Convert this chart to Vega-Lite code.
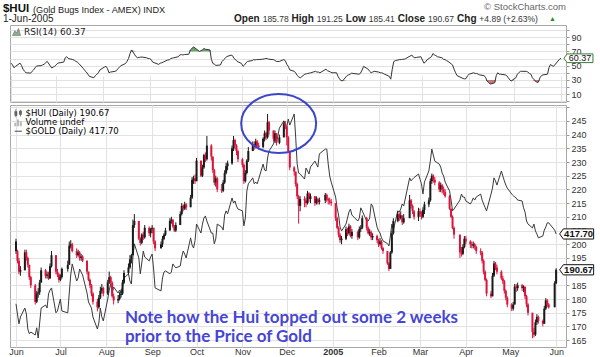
{
"$schema":"https://vega.github.io/schema/vega-lite/v6.json",
"padding":{"left":2,"top":1,"right":0,"bottom":0},
"background":"white",
"bounds":"flush",
"spacing":3,
"config":{"view":{"stroke":"#a8a8a8"},"font":"Liberation Sans","axis":{"labelFont":"Liberation Sans","labelColor":"#333333"}},
"resolve":{"scale":{"x":"independent","y":"independent","color":"independent","shape":"independent"},"legend":{"color":"independent","shape":"independent"}},
"datasets":{"px":[
{"d":"2004-06-01","o":201,"h":202,"l":196.5,"c":197.5,"g":394.4,"r":53.5},
{"d":"2004-06-02","o":197.5,"h":198,"l":193,"c":194,"g":391,"r":51},
{"d":"2004-06-03","o":194,"h":195,"l":189,"c":190,"g":387.7,"r":47},
{"d":"2004-06-04","o":190,"h":192,"l":188.5,"c":190.5,"g":390,"r":49},
{"d":"2004-06-07","o":190.5,"h":198,"l":190.5,"c":197,"g":393,"r":53.5},
{"d":"2004-06-08","o":197,"h":198,"l":194,"c":195,"g":391,"r":50},
{"d":"2004-06-09","o":195,"h":195.5,"l":191.5,"c":192.5,"g":386,"r":45},
{"d":"2004-06-10","o":192.5,"h":192.5,"l":187,"c":188,"g":384.4,"r":42},
{"d":"2004-06-11","o":188,"h":188.5,"l":184,"c":185,"g":385,"r":40},
{"d":"2004-06-14","o":185,"h":185.5,"l":178,"c":179,"g":384,"r":39.5},
{"d":"2004-06-15","o":179,"h":183,"l":178.5,"c":182,"g":386.4,"r":42},
{"d":"2004-06-16","o":182,"h":184,"l":180.5,"c":182.5,"g":383,"r":44},
{"d":"2004-06-17","o":182.5,"h":187,"l":181.5,"c":186,"g":388,"r":47},
{"d":"2004-06-18","o":186,"h":191.5,"l":186,"c":190.5,"g":393,"r":49.5},
{"d":"2004-06-21","o":190.5,"h":191,"l":187.5,"c":188.5,"g":394,"r":50},
{"d":"2004-06-22","o":188.5,"h":190,"l":187.5,"c":189,"g":393,"r":51},
{"d":"2004-06-23","o":189,"h":190,"l":187,"c":187.5,"g":397.7,"r":52},
{"d":"2004-06-24","o":187.5,"h":193,"l":187.5,"c":192,"g":399,"r":54},
{"d":"2004-06-25","o":192,"h":197.5,"l":191.5,"c":196,"g":399.7,"r":56},
{"d":"2004-06-28","o":196,"h":196,"l":189,"c":190,"g":391.4,"r":46.7},
{"d":"2004-06-29","o":190,"h":191,"l":188,"c":189,"g":392,"r":48},
{"d":"2004-06-30","o":189,"h":189.5,"l":186,"c":187,"g":394,"r":49},
{"d":"2004-07-01","o":187,"h":189,"l":186.5,"c":188,"g":396,"r":51},
{"d":"2004-07-02","o":188,"h":191.5,"l":187.5,"c":191,"g":392,"r":53.5},
{"d":"2004-07-06","o":191,"h":194,"l":190,"c":192.5,"g":391.4,"r":55},
{"d":"2004-07-07","o":192.5,"h":201,"l":192.5,"c":199.5,"g":398,"r":61},
{"d":"2004-07-08","o":199.5,"h":201.5,"l":198.5,"c":200,"g":404,"r":62.5},
{"d":"2004-07-09","o":200,"h":200.5,"l":197,"c":197.5,"g":407.7,"r":60},
{"d":"2004-07-12","o":197.5,"h":198.5,"l":195,"c":196,"g":402,"r":58.5},
{"d":"2004-07-13","o":196,"h":198,"l":195.5,"c":197,"g":403,"r":57.5},
{"d":"2004-07-14","o":197,"h":197.5,"l":194,"c":195,"g":406,"r":56},
{"d":"2004-07-15","o":195,"h":196.5,"l":194,"c":195.5,"g":405,"r":55},
{"d":"2004-07-16","o":195.5,"h":196,"l":193.5,"c":194,"g":404,"r":53},
{"d":"2004-07-19","o":194,"h":194,"l":189,"c":190,"g":398,"r":46},
{"d":"2004-07-20","o":190,"h":190,"l":186.5,"c":187,"g":395,"r":43},
{"d":"2004-07-21","o":187,"h":187.5,"l":184,"c":185,"g":394,"r":41},
{"d":"2004-07-22","o":185,"h":185.5,"l":181,"c":182,"g":393,"r":38},
{"d":"2004-07-23","o":182,"h":182.5,"l":178,"c":179,"g":390,"r":35},
{"d":"2004-07-26","o":179,"h":180,"l":175.5,"c":177,"g":386,"r":33},
{"d":"2004-07-27","o":177,"h":181.5,"l":176.5,"c":180.5,"g":388,"r":36},
{"d":"2004-07-28","o":180.5,"h":184.5,"l":180,"c":183,"g":393,"r":38},
{"d":"2004-07-29","o":183,"h":185.5,"l":182,"c":184,"g":390,"r":40},
{"d":"2004-07-30","o":184,"h":184.5,"l":181,"c":182,"g":388.7,"r":44},
{"d":"2004-08-02","o":182,"h":187,"l":181.5,"c":186,"g":396,"r":48},
{"d":"2004-08-03","o":186,"h":190,"l":185.5,"c":188,"g":399,"r":49},
{"d":"2004-08-04","o":188,"h":188.5,"l":185,"c":186,"g":401,"r":46},
{"d":"2004-08-05","o":186,"h":186.5,"l":180.5,"c":181,"g":398,"r":40},
{"d":"2004-08-06","o":181,"h":182,"l":178,"c":179.5,"g":400,"r":41},
{"d":"2004-08-09","o":179.5,"h":181.5,"l":178.5,"c":180,"g":398,"r":42},
{"d":"2004-08-10","o":180,"h":182.5,"l":179.5,"c":181.5,"g":399,"r":43},
{"d":"2004-08-11","o":181.5,"h":183.5,"l":180.5,"c":182,"g":398,"r":46},
{"d":"2004-08-12","o":182,"h":187,"l":181.5,"c":186,"g":400,"r":48},
{"d":"2004-08-13","o":186,"h":190.5,"l":185.5,"c":189.5,"g":403,"r":50},
{"d":"2004-08-16","o":189.5,"h":193,"l":189,"c":191.5,"g":404.4,"r":53},
{"d":"2004-08-17","o":191.5,"h":196,"l":191,"c":194.5,"g":402,"r":56},
{"d":"2004-08-18","o":194.5,"h":196.5,"l":193,"c":196,"g":401,"r":60},
{"d":"2004-08-19","o":196,"h":209,"l":196,"c":207,"g":410,"r":67},
{"d":"2004-08-20","o":207,"h":211,"l":206,"c":208.5,"g":414.4,"r":72},
{"d":"2004-08-23","o":208.5,"h":208.5,"l":201.5,"c":202,"g":409.7,"r":62.5},
{"d":"2004-08-24","o":202,"h":202.5,"l":199.5,"c":200.5,"g":404.4,"r":61},
{"d":"2004-08-25","o":200.5,"h":204,"l":200,"c":203.5,"g":408,"r":61.5},
{"d":"2004-08-26","o":203.5,"h":204.5,"l":201.5,"c":202.5,"g":412,"r":62},
{"d":"2004-08-27","o":202.5,"h":207,"l":202,"c":206,"g":410,"r":62},
{"d":"2004-08-30","o":206,"h":206.5,"l":203,"c":204,"g":408.7,"r":61},
{"d":"2004-08-31","o":204,"h":206,"l":202.5,"c":205.5,"g":410,"r":60},
{"d":"2004-09-01","o":205.5,"h":207,"l":204,"c":206,"g":411,"r":60},
{"d":"2004-09-02","o":206,"h":206,"l":200,"c":201,"g":406,"r":58.5},
{"d":"2004-09-03","o":201,"h":201.5,"l":197.5,"c":198.5,"g":399.7,"r":55},
{"d":"2004-09-07","o":198.5,"h":201,"l":198.5,"c":200,"g":398.7,"r":51.7},
{"d":"2004-09-08","o":200,"h":203,"l":199,"c":202,"g":403,"r":53.5},
{"d":"2004-09-09","o":202,"h":204,"l":201.5,"c":203.5,"g":405,"r":54},
{"d":"2004-09-10","o":203.5,"h":206,"l":203,"c":205,"g":405.4,"r":55},
{"d":"2004-09-13","o":205,"h":209.5,"l":205,"c":208.5,"g":404.4,"r":58},
{"d":"2004-09-14","o":208.5,"h":210,"l":207.5,"c":209,"g":405,"r":58},
{"d":"2004-09-15","o":209,"h":209,"l":206,"c":206.5,"g":407.7,"r":60},
{"d":"2004-09-16","o":206.5,"h":207,"l":204.5,"c":205,"g":407,"r":60.5},
{"d":"2004-09-17","o":205,"h":208,"l":204.5,"c":207,"g":406.4,"r":61},
{"d":"2004-09-20","o":207,"h":212,"l":207,"c":211,"g":407,"r":62.5},
{"d":"2004-09-21","o":211,"h":215,"l":210.5,"c":214,"g":410,"r":65},
{"d":"2004-09-22","o":214,"h":214.5,"l":212,"c":213,"g":412,"r":65.5},
{"d":"2004-09-23","o":213,"h":215.5,"l":212.5,"c":214.5,"g":411,"r":65},
{"d":"2004-09-24","o":214.5,"h":215,"l":212.5,"c":213.5,"g":409.7,"r":65.5},
{"d":"2004-09-27","o":213.5,"h":218,"l":213.5,"c":217,"g":416.4,"r":66},
{"d":"2004-09-28","o":217,"h":224.5,"l":216.5,"c":223.5,"g":414,"r":72},
{"d":"2004-09-29","o":223.5,"h":225,"l":222,"c":224,"g":413,"r":74},
{"d":"2004-09-30","o":224,"h":225.5,"l":222,"c":223,"g":415.5,"r":76},
{"d":"2004-10-01","o":223,"h":231.5,"l":223,"c":230.5,"g":421,"r":75},
{"d":"2004-10-04","o":230.5,"h":230.5,"l":224.5,"c":225,"g":418,"r":70},
{"d":"2004-10-05","o":225,"h":229,"l":224.5,"c":228,"g":421,"r":71},
{"d":"2004-10-06","o":228,"h":233,"l":227.5,"c":232.5,"g":423,"r":72},
{"d":"2004-10-07","o":232.5,"h":233.5,"l":230,"c":231,"g":423.7,"r":74},
{"d":"2004-10-08","o":231,"h":239.5,"l":230.5,"c":236,"g":422,"r":73},
{"d":"2004-10-11","o":236,"h":236.5,"l":230.5,"c":232,"g":418,"r":72},
{"d":"2004-10-12","o":232,"h":232,"l":226,"c":227,"g":418,"r":58.5},
{"d":"2004-10-13","o":227,"h":227.5,"l":221.5,"c":222.5,"g":414.4,"r":53},
{"d":"2004-10-14","o":222.5,"h":225,"l":221,"c":224,"g":416,"r":52},
{"d":"2004-10-15","o":224,"h":224.5,"l":219,"c":220,"g":421,"r":50.3},
{"d":"2004-10-18","o":220,"h":222,"l":218.7,"c":219.5,"g":420,"r":51},
{"d":"2004-10-19","o":219.5,"h":223.5,"l":219,"c":222.5,"g":419,"r":55.8},
{"d":"2004-10-20","o":222.5,"h":227,"l":222,"c":226,"g":424,"r":58},
{"d":"2004-10-21","o":226,"h":229.7,"l":225.5,"c":228.5,"g":425.4,"r":60},
{"d":"2004-10-22","o":228.5,"h":230.5,"l":227,"c":229.5,"g":424.4,"r":62.5},
{"d":"2004-10-25","o":229.5,"h":236,"l":229,"c":235,"g":429.7,"r":64.8},
{"d":"2004-10-26","o":235,"h":239.5,"l":234,"c":238,"g":428,"r":64},
{"d":"2004-10-27","o":238,"h":238.5,"l":234.5,"c":236,"g":428.7,"r":60},
{"d":"2004-10-28","o":236,"h":236.5,"l":232.5,"c":234,"g":427,"r":58.5},
{"d":"2004-10-29","o":234,"h":234.5,"l":230,"c":231,"g":426,"r":56},
{"d":"2004-11-01","o":231,"h":231.5,"l":228,"c":229,"g":425.4,"r":53},
{"d":"2004-11-02","o":229,"h":229.5,"l":222,"c":223,"g":420.4,"r":49},
{"d":"2004-11-03","o":223,"h":227,"l":222.5,"c":226,"g":423,"r":51},
{"d":"2004-11-04","o":226,"h":231,"l":225.5,"c":230.5,"g":432,"r":54},
{"d":"2004-11-05","o":230.5,"h":235.5,"l":230,"c":234,"g":434.4,"r":56},
{"d":"2004-11-08","o":234,"h":237.5,"l":234,"c":236.5,"g":436.4,"r":57},
{"d":"2004-11-09","o":236.5,"h":237.5,"l":234.5,"c":235.5,"g":434.4,"r":58.5},
{"d":"2004-11-10","o":235.5,"h":238.5,"l":235,"c":237.5,"g":435,"r":58},
{"d":"2004-11-11","o":237.5,"h":238,"l":235,"c":236,"g":434.4,"r":58.5},
{"d":"2004-11-12","o":236,"h":237,"l":234.5,"c":235.5,"g":436,"r":58.5},
{"d":"2004-11-15","o":235.5,"h":239,"l":235,"c":238.5,"g":441,"r":59},
{"d":"2004-11-16","o":238.5,"h":241.5,"l":237.5,"c":240.5,"g":439,"r":59.5},
{"d":"2004-11-17","o":240.5,"h":241,"l":238,"c":239,"g":438.7,"r":60},
{"d":"2004-11-18","o":239,"h":247.5,"l":238.5,"c":244.5,"g":443,"r":60},
{"d":"2004-11-19","o":244.5,"h":245,"l":240,"c":241.5,"g":445.4,"r":59},
{"d":"2004-11-22","o":241.5,"h":241.5,"l":237.5,"c":238.5,"g":447.7,"r":58.5},
{"d":"2004-11-23","o":238.5,"h":241.5,"l":237,"c":240.5,"g":449.7,"r":57.5},
{"d":"2004-11-24","o":240.5,"h":240.5,"l":236,"c":237,"g":448,"r":56},
{"d":"2004-11-26","o":237,"h":240,"l":236.5,"c":239,"g":453,"r":55.8},
{"d":"2004-11-29","o":239,"h":245,"l":239,"c":244,"g":455.4,"r":58.5},
{"d":"2004-11-30","o":244,"h":245,"l":242,"c":243,"g":454,"r":57},
{"d":"2004-12-01","o":243,"h":243,"l":236,"c":239,"g":453.5,"r":52},
{"d":"2004-12-02","o":239,"h":239.5,"l":233.5,"c":234,"g":456,"r":49},
{"d":"2004-12-03","o":234,"h":234,"l":227,"c":228,"g":454,"r":44},
{"d":"2004-12-06","o":228,"h":228.5,"l":225,"c":226.5,"g":457.7,"r":42},
{"d":"2004-12-07","o":226.5,"h":226.5,"l":221,"c":222,"g":450,"r":39.5},
{"d":"2004-12-08","o":222,"h":222.5,"l":216.5,"c":217.5,"g":441,"r":36},
{"d":"2004-12-09","o":217.5,"h":218,"l":207.5,"c":214,"g":438,"r":34},
{"d":"2004-12-10","o":214,"h":217.5,"l":212,"c":216.5,"g":437.7,"r":33},
{"d":"2004-12-13","o":216.5,"h":217.5,"l":213.5,"c":216,"g":436,"r":38},
{"d":"2004-12-14","o":216,"h":217,"l":213.5,"c":215,"g":439.7,"r":38.5},
{"d":"2004-12-15","o":215,"h":219.5,"l":214.5,"c":218.5,"g":438.7,"r":39},
{"d":"2004-12-16","o":218.5,"h":219,"l":215.5,"c":216.5,"g":437.7,"r":39.5},
{"d":"2004-12-17","o":216.5,"h":218.5,"l":215,"c":217.5,"g":440,"r":40},
{"d":"2004-12-20","o":217.5,"h":217.5,"l":214,"c":215,"g":442,"r":42},
{"d":"2004-12-21","o":215,"h":217.5,"l":214.5,"c":216.5,"g":441,"r":41},
{"d":"2004-12-22","o":216.5,"h":217,"l":214.5,"c":215.5,"g":440,"r":41},
{"d":"2004-12-23","o":215.5,"h":217,"l":214.5,"c":216,"g":444.4,"r":40},
{"d":"2004-12-27","o":216,"h":218.7,"l":215,"c":218,"g":446,"r":45},
{"d":"2004-12-28","o":218,"h":218.5,"l":215.5,"c":216.5,"g":446,"r":43},
{"d":"2004-12-29","o":216.5,"h":217,"l":214.5,"c":216,"g":441,"r":42},
{"d":"2004-12-30","o":216,"h":217,"l":214.5,"c":215.5,"g":437,"r":41},
{"d":"2004-12-31","o":215.5,"h":216.5,"l":214,"c":215,"g":435,"r":40},
{"d":"2005-01-03","o":215,"h":215,"l":208.5,"c":209.5,"g":430,"r":40},
{"d":"2005-01-04","o":209.5,"h":210,"l":205.5,"c":206,"g":426.4,"r":35},
{"d":"2005-01-05","o":206,"h":206.5,"l":202.5,"c":203.5,"g":424,"r":31.4},
{"d":"2005-01-06","o":203.5,"h":204,"l":200.5,"c":201.5,"g":420,"r":29},
{"d":"2005-01-07","o":201.5,"h":203,"l":200,"c":202,"g":418.7,"r":28.6},
{"d":"2005-01-10","o":202,"h":206.5,"l":201.5,"c":205.5,"g":421,"r":36},
{"d":"2005-01-11","o":205.5,"h":206,"l":203,"c":204,"g":423,"r":37},
{"d":"2005-01-12","o":204,"h":207.5,"l":203.5,"c":206.5,"g":425,"r":38},
{"d":"2005-01-13","o":206.5,"h":207,"l":202.5,"c":203,"g":426,"r":39.5},
{"d":"2005-01-14","o":203,"h":205.5,"l":202,"c":204.5,"g":424,"r":39},
{"d":"2005-01-18","o":204.5,"h":205,"l":201.5,"c":202.5,"g":422,"r":38},
{"d":"2005-01-19","o":202.5,"h":206.5,"l":202,"c":205.5,"g":423,"r":39.5},
{"d":"2005-01-20","o":205.5,"h":207,"l":204.5,"c":206,"g":426.4,"r":44},
{"d":"2005-01-21","o":206,"h":210.5,"l":205.5,"c":209.5,"g":425.4,"r":49},
{"d":"2005-01-24","o":209.5,"h":210,"l":205,"c":206,"g":422,"r":45},
{"d":"2005-01-25","o":206,"h":206.5,"l":203.5,"c":204,"g":422,"r":42},
{"d":"2005-01-26","o":204,"h":205.5,"l":203,"c":204.5,"g":423,"r":40},
{"d":"2005-01-27","o":204.5,"h":205,"l":201.5,"c":202.5,"g":427.7,"r":41},
{"d":"2005-01-28","o":202.5,"h":204,"l":201.5,"c":203,"g":427,"r":42},
{"d":"2005-01-31","o":203,"h":203.5,"l":200.5,"c":201.5,"g":420,"r":41},
{"d":"2005-02-01","o":201.5,"h":202,"l":199,"c":200,"g":418.7,"r":40},
{"d":"2005-02-02","o":200,"h":202.3,"l":199.5,"c":201,"g":418,"r":40},
{"d":"2005-02-03","o":201,"h":201.5,"l":198,"c":198.6,"g":416.4,"r":39},
{"d":"2005-02-04","o":198.6,"h":199,"l":196.5,"c":197.5,"g":415.4,"r":38},
{"d":"2005-02-07","o":197.5,"h":197.5,"l":192.5,"c":193,"g":414.5,"r":35},
{"d":"2005-02-08","o":193,"h":193.5,"l":190.2,"c":191,"g":413.7,"r":31},
{"d":"2005-02-09","o":191,"h":197.5,"l":191,"c":197,"g":417,"r":45},
{"d":"2005-02-10","o":197,"h":205,"l":196.5,"c":204,"g":421,"r":55.8},
{"d":"2005-02-11","o":204,"h":209.5,"l":203.5,"c":208.5,"g":419,"r":57},
{"d":"2005-02-14","o":208.5,"h":212,"l":208,"c":211,"g":425.4,"r":58.5},
{"d":"2005-02-15","o":211,"h":211.5,"l":208.5,"c":209.5,"g":425,"r":58.5},
{"d":"2005-02-16","o":209.5,"h":212,"l":209,"c":210.5,"g":426,"r":59},
{"d":"2005-02-17","o":210.5,"h":210.5,"l":207,"c":208,"g":427.7,"r":59},
{"d":"2005-02-18","o":208,"h":211,"l":207.5,"c":209.5,"g":427,"r":60},
{"d":"2005-02-22","o":209.5,"h":218,"l":209.5,"c":216,"g":436.4,"r":64.8},
{"d":"2005-02-23","o":216,"h":216.5,"l":213,"c":214,"g":435.4,"r":62},
{"d":"2005-02-24","o":214,"h":214.5,"l":211,"c":212,"g":436,"r":61},
{"d":"2005-02-25","o":212,"h":212.5,"l":209,"c":210,"g":436.5,"r":61.5},
{"d":"2005-02-28","o":210,"h":213.3,"l":208.5,"c":212,"g":437.7,"r":62.5},
{"d":"2005-03-01","o":212,"h":213,"l":210,"c":211,"g":436,"r":58},
{"d":"2005-03-02","o":211,"h":212,"l":209,"c":210,"g":434.4,"r":53.5},
{"d":"2005-03-03","o":210,"h":213.5,"l":209.5,"c":212.5,"g":431,"r":55},
{"d":"2005-03-04","o":212.5,"h":215.5,"l":211,"c":214.5,"g":435,"r":58},
{"d":"2005-03-07","o":214.5,"h":217,"l":213.5,"c":216,"g":438.7,"r":62.5},
{"d":"2005-03-08","o":216,"h":224,"l":215.5,"c":223,"g":442,"r":67},
{"d":"2005-03-09","o":223,"h":225.8,"l":222,"c":225,"g":446,"r":65},
{"d":"2005-03-10","o":225,"h":225.5,"l":222.5,"c":223.5,"g":444,"r":64},
{"d":"2005-03-11","o":223.5,"h":224.5,"l":221.5,"c":222.5,"g":442,"r":62.5},
{"d":"2005-03-14","o":222.5,"h":223,"l":219,"c":220,"g":441,"r":61},
{"d":"2005-03-15","o":220,"h":222.5,"l":219,"c":221.5,"g":440,"r":59},
{"d":"2005-03-16","o":221.5,"h":222,"l":218.5,"c":220,"g":438,"r":58.5},
{"d":"2005-03-17","o":220,"h":221,"l":218,"c":219,"g":437,"r":57},
{"d":"2005-03-18","o":219,"h":220,"l":217,"c":217.5,"g":435,"r":56},
{"d":"2005-03-21","o":217.5,"h":218,"l":212.5,"c":213,"g":432,"r":51},
{"d":"2005-03-22","o":213,"h":213,"l":209.5,"c":210,"g":429,"r":45},
{"d":"2005-03-23","o":210,"h":210.5,"l":205.5,"c":206,"g":425.4,"r":40},
{"d":"2005-03-24","o":206,"h":206.5,"l":202,"c":203.5,"g":426,"r":36},
{"d":"2005-03-28","o":203.5,"h":203.5,"l":195,"c":197,"g":429,"r":32},
{"d":"2005-03-29","o":197,"h":199,"l":195.5,"c":196.5,"g":431,"r":31.4},
{"d":"2005-03-30","o":196.5,"h":200,"l":196,"c":199,"g":430,"r":32},
{"d":"2005-03-31","o":199,"h":203,"l":198.5,"c":202,"g":430,"r":36},
{"d":"2005-04-01","o":202,"h":203,"l":200,"c":201,"g":428.7,"r":38},
{"d":"2005-04-04","o":201,"h":201.5,"l":198.6,"c":200,"g":427.7,"r":40},
{"d":"2005-04-05","o":200,"h":201,"l":198.5,"c":199.5,"g":428.5,"r":39},
{"d":"2005-04-06","o":199.5,"h":201,"l":198.5,"c":200,"g":429.7,"r":39},
{"d":"2005-04-07","o":200,"h":200.5,"l":198,"c":199,"g":429,"r":38},
{"d":"2005-04-08","o":199,"h":199.5,"l":196.5,"c":197.5,"g":430,"r":37},
{"d":"2005-04-11","o":197.5,"h":198.5,"l":196,"c":197,"g":431,"r":36},
{"d":"2005-04-12","o":197,"h":197.5,"l":193,"c":194,"g":429,"r":33},
{"d":"2005-04-13","o":194,"h":194.5,"l":189,"c":190,"g":427.7,"r":28},
{"d":"2005-04-14","o":190,"h":190.5,"l":186.5,"c":187,"g":426.5,"r":26.4},
{"d":"2005-04-15","o":187,"h":187.5,"l":181,"c":182,"g":425.4,"r":24.1},
{"d":"2005-04-18","o":182,"h":183,"l":180.3,"c":181,"g":431,"r":26},
{"d":"2005-04-19","o":181,"h":189.5,"l":181,"c":188.5,"g":433,"r":36},
{"d":"2005-04-20","o":188.5,"h":193.9,"l":188,"c":193,"g":436.4,"r":40},
{"d":"2005-04-21","o":193,"h":193.5,"l":190.5,"c":191.5,"g":435.4,"r":38},
{"d":"2005-04-22","o":191.5,"h":192.5,"l":189,"c":190,"g":434,"r":38},
{"d":"2005-04-25","o":190,"h":190.5,"l":187,"c":187.5,"g":438.7,"r":37},
{"d":"2005-04-26","o":187.5,"h":188.5,"l":185.5,"c":186.5,"g":437,"r":36},
{"d":"2005-04-27","o":186.5,"h":187,"l":182,"c":183,"g":435.4,"r":33},
{"d":"2005-04-28","o":183,"h":183.5,"l":179.5,"c":180.5,"g":434,"r":30},
{"d":"2005-04-29","o":180.5,"h":181,"l":177,"c":178,"g":433,"r":28.6},
{"d":"2005-05-02","o":178,"h":178.5,"l":175.6,"c":176.5,"g":431,"r":33},
{"d":"2005-05-03","o":176.5,"h":179,"l":175.8,"c":178,"g":430.5,"r":38},
{"d":"2005-05-04","o":178,"h":185.5,"l":178,"c":184.5,"g":430,"r":40},
{"d":"2005-05-05","o":184.5,"h":185.5,"l":182.5,"c":184,"g":429.7,"r":42},
{"d":"2005-05-06","o":184,"h":186,"l":183,"c":185,"g":429,"r":42},
{"d":"2005-05-09","o":185,"h":185.5,"l":183,"c":184,"g":428.7,"r":42},
{"d":"2005-05-10","o":184,"h":185,"l":182.5,"c":184.5,"g":426.4,"r":41},
{"d":"2005-05-11","o":184.5,"h":184.5,"l":180,"c":181,"g":425,"r":39},
{"d":"2005-05-12","o":181,"h":181.5,"l":177,"c":178,"g":422,"r":38},
{"d":"2005-05-13","o":178,"h":178.5,"l":174,"c":175,"g":421,"r":33},
{"d":"2005-05-16","o":175,"h":175,"l":165.7,"c":168,"g":419.7,"r":26.4},
{"d":"2005-05-17","o":168,"h":169.5,"l":166,"c":167,"g":421,"r":27},
{"d":"2005-05-18","o":167,"h":172.5,"l":166.5,"c":171.5,"g":418.7,"r":33},
{"d":"2005-05-19","o":171.5,"h":174.5,"l":170.5,"c":173.5,"g":417.7,"r":36},
{"d":"2005-05-20","o":173.5,"h":174,"l":171,"c":172,"g":416.4,"r":37},
{"d":"2005-05-23","o":172,"h":172.5,"l":170,"c":171,"g":417,"r":38},
{"d":"2005-05-24","o":171,"h":177.5,"l":171,"c":176.5,"g":419,"r":47},
{"d":"2005-05-25","o":176.5,"h":180.3,"l":176,"c":179.5,"g":420,"r":51.7},
{"d":"2005-05-26","o":179.5,"h":180,"l":177,"c":178,"g":421.4,"r":50},
{"d":"2005-05-27","o":178,"h":178.5,"l":176.5,"c":177,"g":421.4,"r":49},
{"d":"2005-05-31","o":177,"h":186.5,"l":177,"c":185.8,"g":419,"r":59},
{"d":"2005-06-01","o":185.78,"h":191.25,"l":185.41,"c":190.67,"g":417.7,"r":60.37}
]},
"vconcat":[
{
"width":556,"height":77,
"resolve":{"scale":{"y":"independent"}},
"layer":[
{"data":{"name":"px"},
 "mark":{"type":"area","color":"#5f9a5f","opacity":0.9},
 "encoding":{
  "x":{"field":"d","type":"temporal","scale":{"type":"utc","domain":[{"year":2004,"month":5,"date":31,"hours":8,"utc":true},{"year":2005,"month":6,"date":4,"hours":7,"utc":true}]},
       "axis":{"labels":false,"ticks":false,"domain":false,"grid":true,"gridColor":"#e2e2e2","tickCount":{"interval":"month","step":1},"title":null}},
  "y":{"field":"r","type":"quantitative","scale":{"domain":[70,107],"range":[26.38,0],"clamp":true,"nice":false,"zero":false},"axis":null},
  "y2":{"datum":70}}},
{"data":{"name":"px"},
 "mark":{"type":"area","color":"#c46a6a","opacity":0.9},
 "encoding":{
  "x":{"field":"d","type":"temporal"},
  "y":{"field":"r","type":"quantitative","scale":{"domain":[-1,30],"range":[77,54.9],"clamp":true,"nice":false,"zero":false},"axis":null},
  "y2":{"datum":30}}},
{"layer":[
 {"data":{"name":"px"},
  "mark":{"type":"line","stroke":"#333333","strokeWidth":1},
  "encoding":{
   "x":{"field":"d","type":"temporal"},
   "y":{"field":"r","type":"quantitative","scale":{"domain":[-1,107],"nice":false,"zero":false},
        "axis":{"orient":"right","values":[0,10,20,30,40,50,60,70,80,90,100],"tickCount":50,"labelExpr":"datum.value % 20 == 10 ? datum.label : ''","labelOverlap":false,"grid":true,"gridColor":"#e2e2e2","domain":false,"tickSize":3,"tickColor":"#999999","labelFontSize":9,"labelPadding":2,"title":null}}}},
 {"mark":{"type":"rule","stroke":"#8a8a8a","strokeWidth":1.5},"encoding":{"y":{"datum":70}}},
 {"mark":{"type":"rule","stroke":"#8a8a8a","strokeWidth":1.5},"encoding":{"y":{"datum":30}}},
 {"mark":{"type":"rule","stroke":"#8a8a8a","strokeWidth":1,"strokeDash":[5,2,1,2]},"encoding":{"y":{"datum":50}}},
 {"data":{"name":"px"},"transform":[{"filter":"datum.c == 190.67"}],
  "mark":{"type":"point","shape":"M-1,0L-0.78,-0.3L1,-0.3L1,0.3L-0.78,0.3Z","size":841,"filled":true,"fill":"white","stroke":"#3a7a3a","strokeWidth":1,"opacity":1,"xOffset":17.4},
  "encoding":{"x":{"field":"d","type":"temporal"},"y":{"field":"r","type":"quantitative"}}},
 {"data":{"name":"px"},"transform":[{"filter":"datum.c == 190.67"}],
  "mark":{"type":"text","align":"center","baseline":"middle","dx":19,"fontSize":9,"color":"#111111"},
  "encoding":{"x":{"field":"d","type":"temporal"},"y":{"field":"r","type":"quantitative"},"text":{"field":"r","type":"quantitative","format":".2f"}}},
 {"data":{"values":[{"s":"RSI(14) 60.37"}]},"transform":[{"filter":"false"}],
  "mark":{"type":"point","filled":true},
  "encoding":{
   "color":{"field":"s","type":"nominal","scale":{"domain":["RSI(14) 60.37"],"range":["#5a8f5a"]},"legend":{"title":null,"orient":"top-left","offset":2,"padding":0,"symbolSize":64,"symbolStrokeWidth":0.6,"symbolStrokeColor":"#333333","labelFont":"DejaVu Sans","labelFontSize":9,"labelColor":"#222222","labelOffset":3,"labelLimit":300}},
   "shape":{"field":"s","type":"nominal","scale":{"domain":["RSI(14) 60.37"],"range":["M-1,1L-0.4,-0.2L0,0.4L0.5,-0.8L1,1Z"]},"legend":{"title":null,"orient":"top-left","offset":2,"padding":0,"symbolSize":64,"symbolStrokeWidth":0.6,"symbolStrokeColor":"#333333","labelFont":"DejaVu Sans","labelFontSize":9,"labelColor":"#222222","labelOffset":3,"labelLimit":300}}}},
 {"data":{"values":[{}]},"mark":{"type":"text","align":"left","baseline":"middle","fontSize":11.5,"fontWeight":"bold","color":"#111111"},
  "encoding":{"x":{"datum":{"year":2004,"month":5,"date":26,"hours":16,"utc":true},"type":"temporal"},"y":{"datum":129.4,"type":"quantitative"},"text":{"value":"$HUI"}}},
 {"data":{"values":[{}]},"mark":{"type":"text","align":"left","baseline":"middle","fontSize":9.2,"color":"#222222"},
  "encoding":{"x":{"datum":{"year":2004,"month":6,"date":15,"hours":14,"utc":true},"type":"temporal"},"y":{"datum":128.3,"type":"quantitative"},"text":{"value":"(Gold Bugs Index - AMEX) INDX"}}},
 {"data":{"values":[{}]},"mark":{"type":"text","align":"right","baseline":"middle","fontSize":9.5,"color":"#666666"},
  "encoding":{"x":{"datum":{"year":2005,"month":6,"date":4,"hours":7,"utc":true},"type":"temporal"},"y":{"datum":132.5,"type":"quantitative"},"text":{"value":"© StockCharts.com"}}},
 {"data":{"values":[{}]},"mark":{"type":"text","align":"left","baseline":"middle","fontSize":10,"color":"#222222"},
  "encoding":{"x":{"datum":{"year":2004,"month":5,"date":26,"hours":16,"utc":true},"type":"temporal"},"y":{"datum":115.5,"type":"quantitative"},"text":{"value":"1-Jun-2005"}}},
 {"data":{"values":[{}]},"mark":{"type":"text","align":"left","baseline":"middle","fontSize":10,"fontWeight":"bold","color":"#222222"},
  "encoding":{"x":{"datum":{"year":2004,"month":10,"date":27,"utc":true},"type":"temporal"},"y":{"datum":115.5,"type":"quantitative"},"text":{"value":"Open"}}},
 {"data":{"values":[{}]},"mark":{"type":"text","align":"left","baseline":"middle","fontSize":8.5,"color":"#333333"},
  "encoding":{"x":{"datum":{"year":2004,"month":11,"date":15,"utc":true},"type":"temporal"},"y":{"datum":115.5,"type":"quantitative"},"text":{"value":"185.78"}}},
 {"data":{"values":[{}]},"mark":{"type":"text","align":"left","baseline":"middle","fontSize":10,"fontWeight":"bold","color":"#222222"},
  "encoding":{"x":{"datum":{"year":2004,"month":12,"date":4,"hours":5,"utc":true},"type":"temporal"},"y":{"datum":115.5,"type":"quantitative"},"text":{"value":"High"}}},
 {"data":{"values":[{}]},"mark":{"type":"text","align":"left","baseline":"middle","fontSize":8.5,"color":"#333333"},
  "encoding":{"x":{"datum":{"year":2004,"month":12,"date":20,"hours":22,"utc":true},"type":"temporal"},"y":{"datum":115.5,"type":"quantitative"},"text":{"value":"191.25"}}},
 {"data":{"values":[{}]},"mark":{"type":"text","align":"left","baseline":"middle","fontSize":10,"fontWeight":"bold","color":"#222222"},
  "encoding":{"x":{"datum":{"year":2005,"month":1,"date":9,"hours":5,"utc":true},"type":"temporal"},"y":{"datum":115.5,"type":"quantitative"},"text":{"value":"Low"}}},
 {"data":{"values":[{}]},"mark":{"type":"text","align":"left","baseline":"middle","fontSize":8.5,"color":"#333333"},
  "encoding":{"x":{"datum":{"year":2005,"month":1,"date":24,"hours":10,"utc":true},"type":"temporal"},"y":{"datum":115.5,"type":"quantitative"},"text":{"value":"185.41"}}},
 {"data":{"values":[{}]},"mark":{"type":"text","align":"left","baseline":"middle","fontSize":10,"fontWeight":"bold","color":"#222222"},
  "encoding":{"x":{"datum":{"year":2005,"month":2,"date":12,"hours":17,"utc":true},"type":"temporal"},"y":{"datum":115.5,"type":"quantitative"},"text":{"value":"Close"}}},
 {"data":{"values":[{}]},"mark":{"type":"text","align":"left","baseline":"middle","fontSize":8.5,"color":"#333333"},
  "encoding":{"x":{"datum":{"year":2005,"month":3,"date":4,"hours":17,"utc":true},"type":"temporal"},"y":{"datum":115.5,"type":"quantitative"},"text":{"value":"190.67"}}},
 {"data":{"values":[{}]},"mark":{"type":"text","align":"left","baseline":"middle","fontSize":10,"fontWeight":"bold","color":"#222222"},
  "encoding":{"x":{"datum":{"year":2005,"month":3,"date":24,"utc":true},"type":"temporal"},"y":{"datum":115.5,"type":"quantitative"},"text":{"value":"Chg"}}},
 {"data":{"values":[{}]},"mark":{"type":"text","align":"left","baseline":"middle","fontSize":8.5,"color":"#333333"},
  "encoding":{"x":{"datum":{"year":2005,"month":4,"date":7,"hours":19,"utc":true},"type":"temporal"},"y":{"datum":115.5,"type":"quantitative"},"text":{"value":"+4.89 (+2.63%)"}}},
 {"data":{"values":[{}]},"mark":{"type":"text","align":"left","baseline":"middle","fontSize":7,"color":"#2e8b2e"},
  "encoding":{"x":{"datum":{"year":2005,"month":5,"date":24,"utc":true},"type":"temporal"},"y":{"datum":115.5,"type":"quantitative"},"text":{"value":"▲"}}}
]}
]
},
{
"width":556,"height":242,
"resolve":{"scale":{"y":"independent"}},
"layer":[
{"layer":[
 {"data":{"name":"px"},
  "mark":{"type":"line","stroke":"#3a3a3a","strokeWidth":1},
  "encoding":{
   "x":{"field":"d","type":"temporal","scale":{"type":"utc","domain":[{"year":2004,"month":5,"date":31,"hours":8,"utc":true},{"year":2005,"month":6,"date":4,"hours":7,"utc":true}]},
        "axis":{"tickCount":{"interval":"month","step":1},"grid":true,"gridColor":"#e2e2e2","ticks":false,"domain":false,"labelPadding":0,"labelFontSize":9,"labelFlush":false,"labelOverlap":false,"title":null,
                "labelExpr":"utcmonth(datum.value) == 0 ? utcFormat(datum.value, '%Y') : utcFormat(datum.value, '%b')",
                "labelFontWeight":{"condition":{"test":"utcmonth(datum.value) == 0","value":"bold"},"value":"normal"}}},
   "y":{"field":"g","type":"quantitative","scale":{"domain":[380,460.7],"nice":false,"zero":false},"axis":null}}},
 {"data":{"name":"px"},"transform":[{"filter":"datum.c == 190.67"}],
  "mark":{"type":"point","shape":"M-1,0L-0.78,-0.3L1,-0.3L1,0.3L-0.78,0.3Z","size":1156,"filled":true,"fill":"white","stroke":"#111111","strokeWidth":1,"opacity":1,"xOffset":20.5},
  "encoding":{"x":{"field":"d","type":"temporal"},"y":{"field":"g","type":"quantitative"}}},
 {"data":{"name":"px"},"transform":[{"filter":"datum.c == 190.67"}],
  "mark":{"type":"text","align":"center","baseline":"middle","dx":22.5,"fontSize":9.5,"fontWeight":"bold","color":"#111111"},
  "encoding":{"x":{"field":"d","type":"temporal"},"y":{"field":"g","type":"quantitative"},"text":{"field":"g","type":"quantitative","format":".2f"}}}
]},
{"layer":[
 {"data":{"name":"px"},
  "transform":[{"window":[{"op":"lag","field":"c","as":"pc"}],"sort":[{"field":"d"}]}],
  "mark":{"type":"rule","strokeWidth":1},
  "encoding":{
   "x":{"field":"d","type":"temporal"},
   "y":{"field":"l","type":"quantitative","scale":{"domain":[162.5,250.8],"nice":false,"zero":false},
        "axis":{"orient":"right","values":[165,170,175,180,185,190,195,200,205,210,215,220,225,230,235,240,245,250],"tickCount":100,"labelExpr":"datum.value > 245 ? '' : datum.label","labelOverlap":false,"grid":true,"gridColor":"#e2e2e2","domain":false,"tickSize":3,"tickColor":"#999999","labelFontSize":9,"labelPadding":2,"title":null}},
   "y2":{"field":"h"},
   "color":{"condition":{"test":"datum.pc != null && datum.c < datum.pc","value":"#dc143c"},"value":"#1a1a1a"}}},
 {"data":{"name":"px"},
  "transform":[{"window":[{"op":"lag","field":"c","as":"pc"}],"sort":[{"field":"d"}]}],
  "mark":{"type":"bar","size":2},
  "encoding":{
   "x":{"field":"d","type":"temporal"},
   "y":{"field":"o","type":"quantitative"},
   "y2":{"field":"c"},
   "color":{"condition":{"test":"datum.pc != null && datum.c < datum.pc","value":"#dc143c"},"value":"#1a1a1a"}}},
 {"data":{"name":"px"},"transform":[{"filter":"datum.c == 190.67"}],
  "mark":{"type":"point","shape":"M-1,0L-0.78,-0.3L1,-0.3L1,0.3L-0.78,0.3Z","size":1156,"filled":true,"fill":"white","stroke":"#111111","strokeWidth":1,"opacity":1,"xOffset":20.5},
  "encoding":{"x":{"field":"d","type":"temporal"},"y":{"field":"c","type":"quantitative"}}},
 {"data":{"name":"px"},"transform":[{"filter":"datum.c == 190.67"}],
  "mark":{"type":"text","align":"center","baseline":"middle","dx":22.5,"fontSize":9.5,"fontWeight":"bold","color":"#111111"},
  "encoding":{"x":{"field":"d","type":"temporal"},"y":{"field":"c","type":"quantitative"},"text":{"field":"c","type":"quantitative","format":".2f"}}},
 {"data":{"values":[{}]},
  "mark":{"type":"point","shape":"M-1,0A1,0.787 0 1,1 1,0A1,0.787 0 1,1 -1,0Z","size":5625,"filled":false,"stroke":"#3b46c9","strokeWidth":2,"opacity":1},
  "encoding":{"x":{"datum":{"year":2004,"month":11,"date":25,"hours":12,"utc":true},"type":"temporal"},"y":{"datum":244.05,"type":"quantitative"}}},
 {"data":{"values":[{}]},
  "mark":{"type":"text","align":"left","baseline":"alphabetic","font":"Lato","fontWeight":"bold","fontSize":17,"lineHeight":19,"color":"#4646d2"},
  "encoding":{"x":{"datum":{"year":2004,"month":8,"date":13,"hours":14,"utc":true},"type":"temporal"},"y":{"datum":171.2,"type":"quantitative"},
   "text":{"value":["Note how the Hui topped out some 2 weeks","prior to the Price of Gold"]}}}
]},
{"data":{"values":[{"s":"$HUI (Daily) 190.67"},{"s":"Volume undef"},{"s":"$GOLD (Daily) 417.70"}]},"transform":[{"filter":"false"}],
 "mark":{"type":"point","filled":true},
 "encoding":{
  "color":{"field":"s","type":"nominal","scale":{"domain":["$HUI (Daily) 190.67","Volume undef","$GOLD (Daily) 417.70"],"range":["#222222","#9a9a9a","#222222"]},
   "legend":{"title":null,"orient":"top-left","offset":4,"padding":0,"rowPadding":0,"symbolSize":64,"symbolStrokeWidth":0,"labelFont":"DejaVu Sans","labelFontSize":8.5,"labelOffset":3,"labelLimit":300,
    "encode":{"labels":{"update":{"fill":{"signal":"datum.label == 'Volume undef' ? '#999999' : '#222222'"}}}}}},
  "shape":{"field":"s","type":"nominal","scale":{"domain":["$HUI (Daily) 190.67","Volume undef","$GOLD (Daily) 417.70"],"range":["M-0.7,-1H-0.5V1H-0.7ZM-0.95,-0.5H-0.25V0.6H-0.95ZM0.45,-0.9H0.65V0.8H0.45ZM0.2,-0.6H0.9V0.4H0.2Z","M-1,1V0.1H-0.5V1ZM-0.3,1V-0.7H0.2V1ZM0.4,1V-0.2H0.9V1Z","M-0.9,-0.15H0.9V0.15H-0.9Z"]},
   "legend":{"title":null,"orient":"top-left","offset":4,"padding":0,"rowPadding":0,"symbolSize":64,"symbolStrokeWidth":0,"labelFont":"DejaVu Sans","labelFontSize":8.5,"labelOffset":3,"labelLimit":300,
    "encode":{"labels":{"update":{"fill":{"signal":"datum.label == 'Volume undef' ? '#999999' : '#222222'"}}}}}}}}
]
}
]
}
